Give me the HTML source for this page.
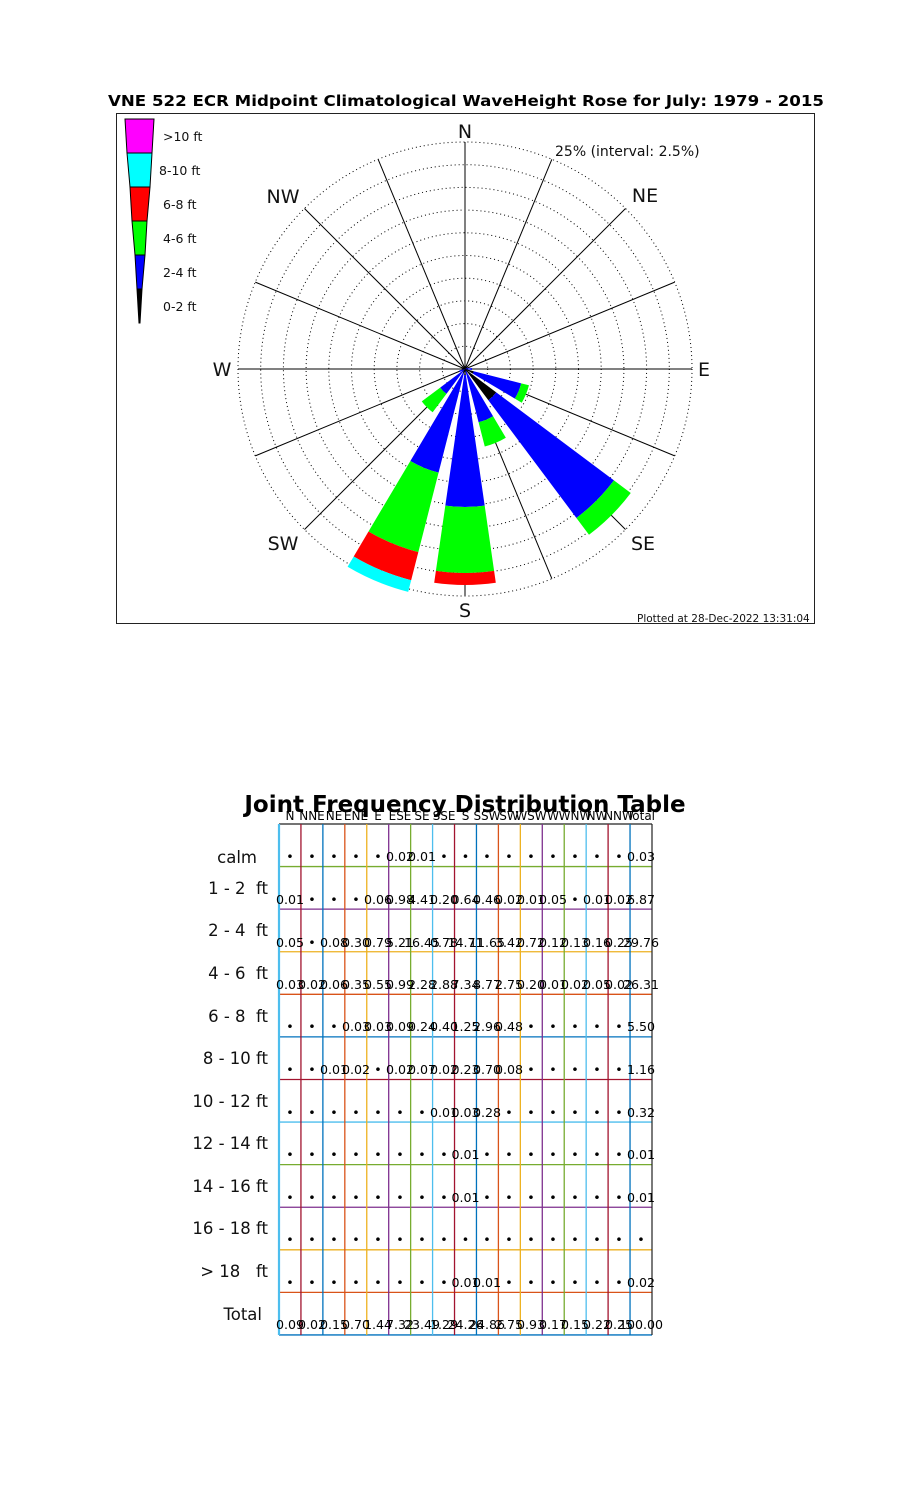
<!DOCTYPE html>
<html><head><meta charset="utf-8"><style>
html,body{margin:0;padding:0;background:#fff;}
svg{display:block;font-family:"DejaVu Sans","Liberation Sans",sans-serif;}
.pre{white-space:pre;}
</style></head><body>
<svg id="s" width="900" height="1500" viewBox="0 0 900 1500" xmlns="http://www.w3.org/2000/svg">
<rect width="900" height="1500" fill="#fff"/>
<text x="466" y="106" font-size="15" font-weight="bold" text-anchor="middle" textLength="716" lengthAdjust="spacingAndGlyphs">VNE 522 ECR Midpoint Climatological WaveHeight Rose for July: 1979 - 2015</text>
<rect x="116.5" y="113.5" width="698" height="510" fill="none" stroke="#222" stroke-width="1"/>
<g id="rose"></g>
<g font-size="19" text-anchor="middle" fill="#111">
<text x="465" y="138">N</text>
<text x="645" y="202">NE</text>
<text x="704" y="376">E</text>
<text x="643" y="550">SE</text>
<text x="465" y="617">S</text>
<text x="283" y="550">SW</text>
<text x="222" y="376">W</text>
<text x="283" y="203">NW</text>
</g>
<text x="555" y="156" font-size="14" fill="#111">25% (interval: 2.5%)</text>
<text x="637" y="622" font-size="10.5" fill="#111">Plotted at 28-Dec-2022 13:31:04</text>
<g stroke="#000" stroke-width="1">
<polygon points="125,119 154,119 152,153 127,153" fill="#f0f"/>
<polygon points="127,153 152,153 150,187 130,187" fill="#0ff"/>
<polygon points="130,187 150,187 147,221 132,221" fill="#f00"/>
<polygon points="132,221 147,221 145,255 135,255" fill="#0f0"/>
<polygon points="135,255 145,255 142,289 137,289" fill="#00f"/>
<polygon points="137,289 142,289 140,323 139,323" fill="#000"/>
</g>
<g font-size="12.5" fill="#111">
<text x="163" y="141">&gt;10 ft</text>
<text x="159" y="175">8-10 ft</text>
<text x="163" y="209">6-8 ft</text>
<text x="163" y="243">4-6 ft</text>
<text x="163" y="277">2-4 ft</text>
<text x="163" y="311">0-2 ft</text>
</g>

<text x="465" y="812" font-size="23" font-weight="bold" text-anchor="middle">Joint Frequency Distribution Table</text>
<g id="grid"></g>
<text font-size="12" text-anchor="middle" y="820"><tspan x="290">N</tspan><tspan x="312">NNE</tspan><tspan x="334">NE</tspan><tspan x="356">ENE</tspan><tspan x="378">E</tspan><tspan x="400">ESE</tspan><tspan x="422">SE</tspan><tspan x="444">SSE</tspan><tspan x="465.5">S</tspan><tspan x="487">SSW</tspan><tspan x="509">SW</tspan><tspan x="531">WSW</tspan><tspan x="553">W</tspan><tspan x="575">WNW</tspan><tspan x="597">NW</tspan><tspan x="619">NNW</tspan><tspan x="641">Total</tspan></text>
<g font-size="16.5" text-anchor="end" fill="#111">
<text x="257" y="863">calm</text>
<text class="pre" x="268" y="894">1 - 2  ft</text>
<text class="pre" x="268" y="936">2 - 4  ft</text>
<text class="pre" x="268" y="979">4 - 6  ft</text>
<text class="pre" x="268" y="1022">6 - 8  ft</text>
<text x="268" y="1064">8 - 10 ft</text>
<text x="268" y="1107">10 - 12 ft</text>
<text x="268" y="1149">12 - 14 ft</text>
<text x="268" y="1192">14 - 16 ft</text>
<text x="268" y="1234">16 - 18 ft</text>
<text class="pre" x="268" y="1277">&gt; 18   ft</text>
<text x="262" y="1320">Total</text>
</g>
<g font-size="12.6" text-anchor="middle" fill="#000">
<text y="861"><tspan x="290">•</tspan><tspan x="312">•</tspan><tspan x="334">•</tspan><tspan x="356">•</tspan><tspan x="378">•</tspan><tspan x="400">0.02</tspan><tspan x="422">0.01</tspan><tspan x="444">•</tspan><tspan x="465.5">•</tspan><tspan x="487">•</tspan><tspan x="509">•</tspan><tspan x="531">•</tspan><tspan x="553">•</tspan><tspan x="575">•</tspan><tspan x="597">•</tspan><tspan x="619">•</tspan><tspan x="641">0.03</tspan></text>
<text y="904"><tspan x="290">0.01</tspan><tspan x="312">•</tspan><tspan x="334">•</tspan><tspan x="356">•</tspan><tspan x="378">0.06</tspan><tspan x="400">0.98</tspan><tspan x="422">4.41</tspan><tspan x="444">0.20</tspan><tspan x="465.5">0.64</tspan><tspan x="487">0.46</tspan><tspan x="509">0.02</tspan><tspan x="531">0.01</tspan><tspan x="553">0.05</tspan><tspan x="575">•</tspan><tspan x="597">0.01</tspan><tspan x="619">0.02</tspan><tspan x="641">6.87</tspan></text>
<text y="947"><tspan x="290">0.05</tspan><tspan x="312">•</tspan><tspan x="334">0.08</tspan><tspan x="356">0.30</tspan><tspan x="378">0.79</tspan><tspan x="400">5.21</tspan><tspan x="422">16.45</tspan><tspan x="444">0.78</tspan><tspan x="465.5">14.71</tspan><tspan x="487">11.65</tspan><tspan x="509">3.42</tspan><tspan x="531">0.72</tspan><tspan x="553">0.12</tspan><tspan x="575">0.13</tspan><tspan x="597">0.16</tspan><tspan x="619">0.25</tspan><tspan x="641">29.76</tspan></text>
<text y="989"><tspan x="290">0.03</tspan><tspan x="312">0.02</tspan><tspan x="334">0.06</tspan><tspan x="356">0.35</tspan><tspan x="378">0.55</tspan><tspan x="400">0.99</tspan><tspan x="422">2.28</tspan><tspan x="444">2.88</tspan><tspan x="465.5">7.34</tspan><tspan x="487">8.77</tspan><tspan x="509">2.75</tspan><tspan x="531">0.20</tspan><tspan x="553">0.01</tspan><tspan x="575">0.02</tspan><tspan x="597">0.05</tspan><tspan x="619">0.02</tspan><tspan x="641">26.31</tspan></text>
<text y="1031"><tspan x="290">•</tspan><tspan x="312">•</tspan><tspan x="334">•</tspan><tspan x="356">0.03</tspan><tspan x="378">0.03</tspan><tspan x="400">0.09</tspan><tspan x="422">0.24</tspan><tspan x="444">0.40</tspan><tspan x="465.5">1.25</tspan><tspan x="487">2.96</tspan><tspan x="509">0.48</tspan><tspan x="531">•</tspan><tspan x="553">•</tspan><tspan x="575">•</tspan><tspan x="597">•</tspan><tspan x="619">•</tspan><tspan x="641">5.50</tspan></text>
<text y="1074"><tspan x="290">•</tspan><tspan x="312">•</tspan><tspan x="334">0.01</tspan><tspan x="356">0.02</tspan><tspan x="378">•</tspan><tspan x="400">0.02</tspan><tspan x="422">0.07</tspan><tspan x="444">0.02</tspan><tspan x="465.5">0.23</tspan><tspan x="487">0.70</tspan><tspan x="509">0.08</tspan><tspan x="531">•</tspan><tspan x="553">•</tspan><tspan x="575">•</tspan><tspan x="597">•</tspan><tspan x="619">•</tspan><tspan x="641">1.16</tspan></text>
<text y="1117"><tspan x="290">•</tspan><tspan x="312">•</tspan><tspan x="334">•</tspan><tspan x="356">•</tspan><tspan x="378">•</tspan><tspan x="400">•</tspan><tspan x="422">•</tspan><tspan x="444">0.01</tspan><tspan x="465.5">0.03</tspan><tspan x="487">0.28</tspan><tspan x="509">•</tspan><tspan x="531">•</tspan><tspan x="553">•</tspan><tspan x="575">•</tspan><tspan x="597">•</tspan><tspan x="619">•</tspan><tspan x="641">0.32</tspan></text>
<text y="1159"><tspan x="290">•</tspan><tspan x="312">•</tspan><tspan x="334">•</tspan><tspan x="356">•</tspan><tspan x="378">•</tspan><tspan x="400">•</tspan><tspan x="422">•</tspan><tspan x="444">•</tspan><tspan x="465.5">0.01</tspan><tspan x="487">•</tspan><tspan x="509">•</tspan><tspan x="531">•</tspan><tspan x="553">•</tspan><tspan x="575">•</tspan><tspan x="597">•</tspan><tspan x="619">•</tspan><tspan x="641">0.01</tspan></text>
<text y="1202"><tspan x="290">•</tspan><tspan x="312">•</tspan><tspan x="334">•</tspan><tspan x="356">•</tspan><tspan x="378">•</tspan><tspan x="400">•</tspan><tspan x="422">•</tspan><tspan x="444">•</tspan><tspan x="465.5">0.01</tspan><tspan x="487">•</tspan><tspan x="509">•</tspan><tspan x="531">•</tspan><tspan x="553">•</tspan><tspan x="575">•</tspan><tspan x="597">•</tspan><tspan x="619">•</tspan><tspan x="641">0.01</tspan></text>
<text y="1244"><tspan x="290">•</tspan><tspan x="312">•</tspan><tspan x="334">•</tspan><tspan x="356">•</tspan><tspan x="378">•</tspan><tspan x="400">•</tspan><tspan x="422">•</tspan><tspan x="444">•</tspan><tspan x="465.5">•</tspan><tspan x="487">•</tspan><tspan x="509">•</tspan><tspan x="531">•</tspan><tspan x="553">•</tspan><tspan x="575">•</tspan><tspan x="597">•</tspan><tspan x="619">•</tspan><tspan x="641">•</tspan></text>
<text y="1287"><tspan x="290">•</tspan><tspan x="312">•</tspan><tspan x="334">•</tspan><tspan x="356">•</tspan><tspan x="378">•</tspan><tspan x="400">•</tspan><tspan x="422">•</tspan><tspan x="444">•</tspan><tspan x="465.5">0.01</tspan><tspan x="487">0.01</tspan><tspan x="509">•</tspan><tspan x="531">•</tspan><tspan x="553">•</tspan><tspan x="575">•</tspan><tspan x="597">•</tspan><tspan x="619">•</tspan><tspan x="641">0.02</tspan></text>
<text y="1329"><tspan x="290">0.09</tspan><tspan x="312">0.02</tspan><tspan x="334">0.15</tspan><tspan x="356">0.70</tspan><tspan x="378">1.44</tspan><tspan x="400">7.32</tspan><tspan x="422">23.49</tspan><tspan x="444">1.29</tspan><tspan x="465.5">24.26</tspan><tspan x="487">24.86</tspan><tspan x="509">2.75</tspan><tspan x="531">0.93</tspan><tspan x="553">0.17</tspan><tspan x="575">0.15</tspan><tspan x="597">0.22</tspan><tspan x="619">0.25</tspan><tspan x="641">100.00</tspan></text>
</g>
</svg>
<script>
(function(){
var NS="http://www.w3.org/2000/svg";
function el(p,n,a){var e=document.createElementNS(NS,n);for(var k in a)e.setAttribute(k,a[k]);p.appendChild(e);return e;}
var rose=document.getElementById('rose'),cx=465,cy=369,R=227;
for(var i=1;i<=10;i++)el(rose,'circle',{cx:cx,cy:cy,r:R*i/10,fill:'none',stroke:'#000','stroke-width':1,'stroke-dasharray':'1 3'});
for(var d=0;d<16;d++){var a=d*22.5*Math.PI/180;el(rose,'line',{x1:cx,y1:cy,x2:cx+R*Math.sin(a),y2:cy-R*Math.cos(a),stroke:'#000','stroke-width':1});}
var cols=['#000','#00f','#0f0','#f00','#0ff','#f0f'];
var data=[[67.5,[0,3]],[90,[0.5,7]],[112.5,[9,58,66]],[135,[39,186,207]],[157.5,[2,55,80]],[180,[6,138,204,216]],[202.5,[4,107,189,218,230]],[225,[0.5,31,54]],[247.5,[0,6]]];
var h=8.2*Math.PI/180;
data.forEach(function(w){var a=w[0]*Math.PI/180,prev=0;
 w[1].forEach(function(r,k){if(r>prev){
  var a1=a-h,a2=a+h;
  function P(rr,aa){return (cx+rr*Math.sin(aa)).toFixed(2)+' '+(cy-rr*Math.cos(aa)).toFixed(2);}
  var dstr='M'+P(prev,a1)+' L'+P(r,a1)+' A'+r+' '+r+' 0 0 1 '+P(r,a2)+' L'+P(prev,a2)+(prev>0?' A'+prev+' '+prev+' 0 0 0 '+P(prev,a1):'')+'Z';
  el(rose,'path',{d:dstr,fill:cols[k],stroke:'none'});}
  prev=Math.max(prev,r);});
});
var g=document.getElementById('grid');
var C=['#4DBEEE','#A2142F','#0072BD','#D95319','#EDB120','#7E2F8E','#77AC30'];
var x0=279,cw=21.94,y0=824,rh=42.58;
var hc=['#77AC30','#7E2F8E','#EDB120','#D95319','#0072BD','#A2142F','#4DBEEE','#77AC30','#7E2F8E','#EDB120','#D95319','#0072BD'];
for(var k=1;k<=12;k++){var y=y0+rh*k;el(g,'line',{x1:x0,y1:y,x2:652,y2:y,stroke:hc[k-1],'stroke-width':1.3});}
el(g,'line',{x1:x0,y1:y0,x2:652,y2:y0,stroke:'#222','stroke-width':1.2});
for(var k=0;k<17;k++){var x=x0+cw*k;el(g,'line',{x1:x,y1:y0,x2:x,y2:y0+rh*12,stroke:C[k%7],'stroke-width':k==0?2.2:1.3});}
el(g,'line',{x1:652,y1:y0,x2:652,y2:y0+rh*12,stroke:'#222','stroke-width':1.2});
})();
</script>
</body></html>
